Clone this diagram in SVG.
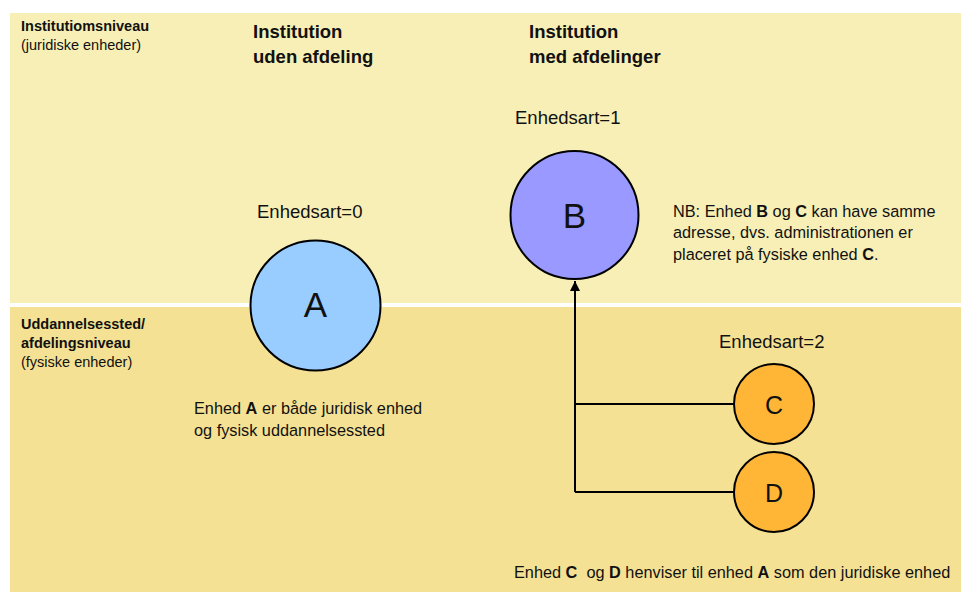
<svg xmlns="http://www.w3.org/2000/svg" width="961" height="592" viewBox="0 0 961 592">
<defs>
<style>
text{font-family:"Liberation Sans","Noto Sans",sans-serif;fill:#111}
.b{font-weight:bold}
.lbl{font-size:14.5px}
.ttl{font-size:18.5px;font-weight:bold}
.es{font-size:18.5px}
.t{font-size:16.3px}
.big{font-size:35px;text-anchor:middle}
.mid{font-size:25px;text-anchor:middle}
.node{stroke:#000;stroke-width:2}
.conn{fill:none;stroke:#000;stroke-width:2}
</style>
<marker id="arr" viewBox="0 0 10 10" refX="10" refY="5" markerWidth="5" markerHeight="5" orient="auto"><path d="M0,0 L10,5 L0,10 z" fill="#000"/></marker>
</defs>
<rect width="961" height="592" fill="#fff"/>
<rect x="10" y="13" width="951" height="290" fill="#F7EFB5"/>
<rect x="10" y="307" width="951" height="285" fill="#F5E193"/>
<g id="labels">
<text class="lbl b" x="21" y="31">Institutiomsniveau</text>
<text class="lbl" x="21" y="50">(juridiske enheder)</text>
<text class="ttl" x="253" y="38">Institution</text>
<text class="ttl" x="253" y="63">uden afdeling</text>
<text class="ttl" x="529" y="38">Institution</text>
<text class="ttl" x="529" y="63">med afdelinger</text>
<text class="lbl b" x="21" y="329">Uddannelsessted/</text>
<text class="lbl b" x="21" y="348">afdelingsniveau</text>
<text class="lbl" x="21" y="367">(fysiske enheder)</text>
<text class="es" x="257" y="218">Enhedsart=0</text>
<text class="es" x="515" y="124">Enhedsart=1</text>
<text class="es" x="719" y="348">Enhedsart=2</text>
<text class="t" x="673" y="217">NB: Enhed <tspan class="b">B</tspan> og <tspan class="b">C</tspan> kan have samme</text>
<text class="t" x="673" y="238">adresse, dvs. administrationen er</text>
<text class="t" x="673" y="260">placeret på fysiske enhed <tspan class="b">C</tspan>.</text>
<text class="t" x="194" y="414">Enhed <tspan class="b">A</tspan> er både juridisk enhed</text>
<text class="t" x="194" y="436">og fysisk uddannelsessted</text>
<text class="t" x="514" y="578">Enhed <tspan class="b">C</tspan>&#160; og <tspan class="b">D</tspan> henviser til enhed <tspan class="b">A</tspan> som den juridiske enhed</text>
</g>
<g id="connectors">
<path class="conn" d="M575,492 L575,281" marker-end="url(#arr)"/>
<path class="conn" d="M575,404 L734,404"/>
<path class="conn" d="M575,492 L734,492"/>
</g>
<g id="node-A">
<circle class="node" cx="315.5" cy="305.5" r="65" fill="#99CCFF"/>
<text class="big" x="315.5" y="317">A</text>
</g>
<g id="node-B">
<circle class="node" cx="574.5" cy="215" r="64" fill="#9999FF"/>
<text class="big" x="574.5" y="228">B</text>
</g>
<g id="node-C">
<circle class="node" cx="774" cy="404" r="40" fill="#FFB636"/>
<text class="mid" x="774" y="414">C</text>
</g>
<g id="node-D">
<circle class="node" cx="774" cy="492" r="40" fill="#FFB636"/>
<text class="mid" x="774" y="502">D</text>
</g>
</svg>
